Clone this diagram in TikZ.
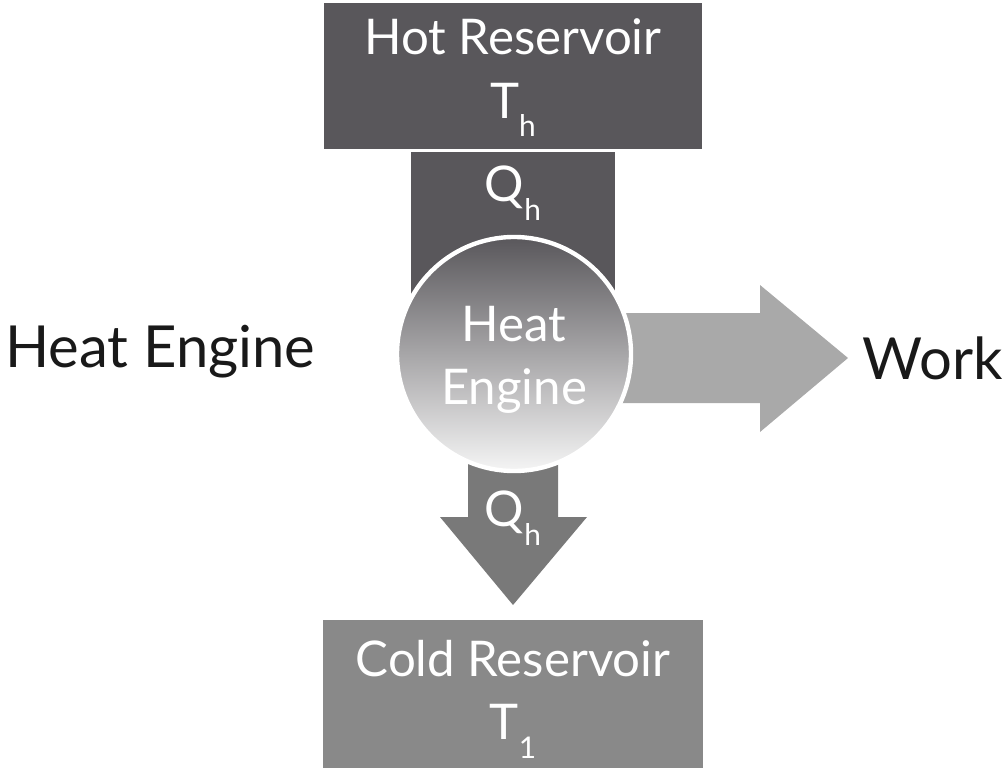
\documentclass[tikz,border=0pt]{standalone}
\usepackage{fontspec}
\setmainfont{Lato}
\definecolor{hotgray}{HTML}{59575B}
\definecolor{flowgray}{HTML}{797979}
\definecolor{coldgray}{HTML}{898989}
\definecolor{workgray}{HTML}{A9A9A9}
\newcommand{\lowsub}[1]{\raisebox{-.38em}{\fontsize{17}{17}\selectfont #1}}
\tikzset{
  boxtext/.style={text=white,align=center,font=\fontsize{28}{36}\selectfont},
  sidetext/.style={text=black!90,font=\fontsize{33}{36}\selectfont,inner sep=0pt}
}
\begin{document}
\begin{tikzpicture}[x=.02cm,y=-.02cm]
\useasboundingbox (0,0) rectangle (1006,770);
\fill[hotgray] (324,3) rectangle (702,149);\node[boxtext] (hot) at (513,78) {Hot Reservoir\\T\lowsub{h}};
\fill[hotgray] (411,152) rectangle (615,320);\node[boxtext] (qin) at (513,193) {Q\lowsub{h}};
\fill[workgray] (600,313)--(760,313)--(760,285)--(848,358)--(760,432)--(760,403)--(600,403)--cycle;
\fill[flowgray] (468,440)--(558,440)--(558,517)--(587,517)--(513,605)--(440,517)--(468,517)--cycle;
\shade[top color=hotgray,middle color=black!48,bottom color=black!4,draw=white,line width=2.5pt] (514,354) circle [radius=117];
\node[boxtext] (engine) at (514,360) {Heat\\Engine};
\node[boxtext] (qout) at (513,518) {Q\lowsub{h}};
\fill[coldgray] (323,620) rectangle (703,768);\node[boxtext] (cold) at (513,699) {Cold Reservoir\\T\lowsub{1}};
\node[sidetext,anchor=west] (title) at (5,352) {Heat Engine};
\node[sidetext,anchor=east] (work) at (1003,358) {Work};
\end{tikzpicture}
\end{document}
